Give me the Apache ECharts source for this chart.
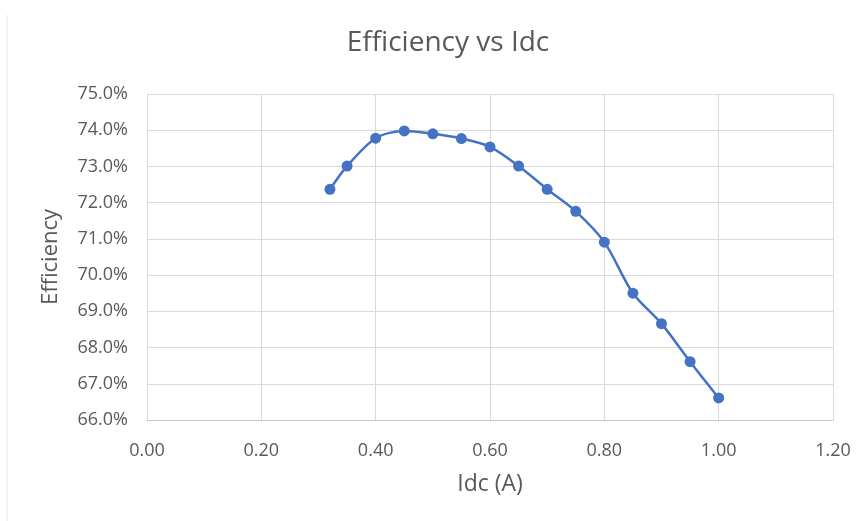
<!DOCTYPE html>
<html>
<head>
<meta charset="utf-8">
<script src="https://cdn.jsdelivr.net/npm/echarts@6/dist/echarts.min.js"></script>
<style>html,body{margin:0;padding:0;background:#fff}#c{width:856px;height:521px}</style>
</head>
<body>
<div id="c"></div>
<script>
const idc = [0.32, 0.35, 0.40, 0.45, 0.50, 0.55, 0.60, 0.65, 0.70, 0.75, 0.80, 0.85, 0.90, 0.95, 1.00];
const efficiency = [72.37, 73.01, 73.78, 73.98, 73.90, 73.77, 73.54, 73.01, 72.37, 71.76, 70.91, 69.50, 68.66, 67.61, 66.61];
const title = 'Efficiency vs Idc';
const xName = 'Idc (A)';
const yName = 'Efficiency';

const chart = echarts.init(document.getElementById('c'));
const txt = '#595959';
const font = '"Open Sans", "Noto Sans", sans-serif';
chart.setOption({
  animation: false,
  backgroundColor: '#fff',
  title: {
    text: title, left: 443, top: 24, textAlign: 'center',
    textStyle: { color: txt, fontSize: 28, fontWeight: 'normal', fontFamily: font }
  },
  graphic: [{
    type: 'line', shape: { x1: 7, y1: 15, x2: 7, y2: 521 },
    style: { stroke: '#e6e6e6', lineWidth: 1 }
  }],
  grid: { left: 147, right: 23, top: 94, bottom: 101 },
  xAxis: {
    type: 'value', min: 0, max: 1.2, interval: 0.2,
    name: xName, nameLocation: 'middle', nameGap: 53,
    nameTextStyle: { color: txt, fontSize: 23, fontFamily: font },
    axisLine: { show: true, lineStyle: { color: '#c8c8c8', width: 1 } },
    axisTick: { show: false },
    axisLabel: { color: txt, fontSize: 18, margin: 22, fontFamily: font, formatter: v => v.toFixed(2) },
    splitLine: { show: true, lineStyle: { color: '#d9d9d9', width: 1 } }
  },
  yAxis: {
    type: 'value', min: 66, max: 75, interval: 1,
    name: yName, nameLocation: 'middle', nameGap: 85, nameRotate: 90,
    nameTextStyle: { color: txt, fontSize: 22, fontFamily: font },
    axisLine: { show: true, lineStyle: { color: '#d9d9d9', width: 1 } },
    axisTick: { show: false },
    axisLabel: { color: txt, fontSize: 18, margin: 19, fontFamily: font, formatter: v => v.toFixed(1) + '%' },
    splitLine: { show: true, lineStyle: { color: '#d9d9d9', width: 1 } }
  },
  series: [{
    type: 'line',
    data: idc.map((x, i) => [x, efficiency[i]]),
    smooth: 0.3,
    symbol: 'circle', symbolSize: 11,
    lineStyle: { color: '#4472c4', width: 2.5 },
    itemStyle: { color: '#4472c4' }
  }]
});
</script>
</body>
</html>
